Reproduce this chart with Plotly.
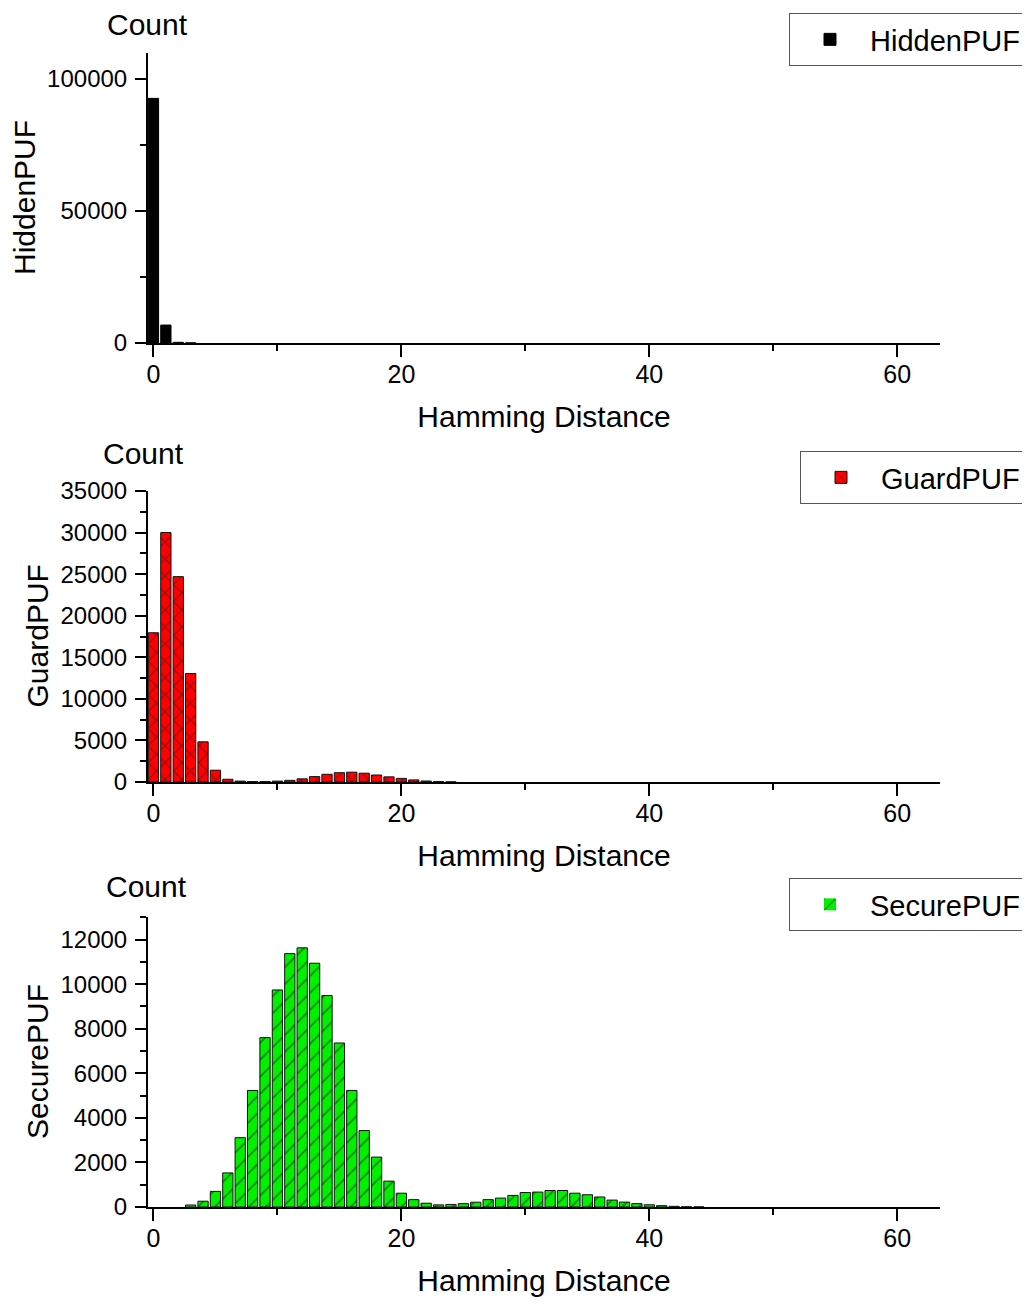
import plotly.graph_objects as go

# Hamming distance bins
hamming_distance = [0, 1, 2, 3, 4, 5, 6, 7, 8, 9, 10, 11, 12, 13, 14, 15, 16, 17, 18, 19, 20,
                    21, 22, 23, 24, 25, 26, 27, 28, 29, 30, 31, 32, 33, 34, 35, 36, 37, 38, 39,
                    40, 41, 42, 43, 44, 45]

hidden_puf = [92700, 6800, 250, 30, 0, 0, 0, 0, 0, 0, 0, 0, 0, 0, 0, 0, 0, 0, 0, 0, 0,
              0, 0, 0, 0, 0, 0, 0, 0, 0, 0, 0, 0, 0, 0, 0, 0, 0, 0, 0,
              0, 0, 0, 0, 0, 0]

guard_puf = [17950, 30000, 24700, 13050, 4830, 1420, 330, 110, 50, 60, 110, 200, 380, 650, 930,
             1120, 1180, 1060, 840, 620, 430, 250, 120, 50, 20, 0, 0, 0, 0, 0, 0, 0, 0, 0, 0,
             0, 0, 0, 0, 0, 0, 0, 0, 0, 0, 0]

secure_puf = [0, 0, 0, 90, 260, 700, 1530, 3110, 5230, 7600, 9740, 11370, 11630, 10940, 9490,
              7360, 5230, 3430, 2240, 1160, 620, 330, 170, 95, 115, 150, 215, 330, 400, 520,
              650, 670, 740, 740, 620, 550, 450, 310, 220, 150, 100, 60, 30, 10, 5, 0]

series_names = ["HiddenPUF", "GuardPUF", "SecurePUF"]
x_ticks = [0, 20, 40, 60]
y_ticks_hidden = [0, 50000, 100000]
y_ticks_guard = [0, 5000, 10000, 15000, 20000, 25000, 30000, 35000]
y_ticks_secure = [0, 2000, 4000, 6000, 8000, 10000, 12000]

# page body has an 8px margin: lay the figure out in reference pixels minus 8
OFF = 8
W, H = 1030 - OFF, 1304 - OFF
FONT = "Liberation Sans, Arial, sans-serif"

def px_x(p):
    return (p - OFF) / W

def px_y(p):
    return 1 - (p - OFF) / H

def outline(vals):
    return [1 if v > 0 else 0 for v in vals]

fig = go.Figure()

fig.add_trace(go.Bar(
    x=hamming_distance, y=hidden_puf, name=series_names[0],
    marker=dict(color="black", line=dict(color="black", width=outline(hidden_puf))),
    xaxis="x", yaxis="y", legend="legend"))
fig.add_trace(go.Bar(
    x=hamming_distance, y=guard_puf, name=series_names[1],
    marker=dict(color="#ff0000", line=dict(color="#111111", width=outline(guard_puf)),
                pattern=dict(shape="x", fgcolor="#1a1a1a", size=12, solidity=0.18)),
    xaxis="x2", yaxis="y2", legend="legend2"))
fig.add_trace(go.Bar(
    x=hamming_distance, y=secure_puf, name=series_names[2],
    marker=dict(color="#00f000", line=dict(color="#111111", width=outline(secure_puf)),
                pattern=dict(shape="/", fgcolor="#1a1a1a", size=12, solidity=0.15)),
    xaxis="x3", yaxis="y3", legend="legend3"))

xdom = [px_x(148), px_x(940)]
doms = [
    [px_y(343), px_y(52.7)],
    [px_y(782), px_y(491)],
    [px_y(1207), px_y(917.3)],
]
yranges = [[0, 110000], [0, 35000], [0, 13000]]
yticks = [y_ticks_hidden, y_ticks_guard, y_ticks_secure]
yminor = [25000, 2500, 1000]

def xaxis_def(anchor):
    return dict(
        domain=xdom, anchor=anchor, range=[-0.44, 63.45],
        tickvals=x_ticks, ticks="outside", ticklen=12, tickwidth=2, tickcolor="black",
        minor=dict(dtick=10, tick0=0, ticks="outside", ticklen=6, tickwidth=2, tickcolor="black"),
        showline=True, linecolor="black", linewidth=2, showgrid=False, zeroline=False,
        tickfont=dict(family=FONT, size=25, color="black"),
        ticklabelstandoff=-4,
        title=dict(text="Hamming Distance", font=dict(family=FONT, size=30, color="black"), standoff=19),
        automargin=False,
    )

def yaxis_def(anchor, dom, rng, tv, mn):
    return dict(
        domain=dom, anchor=anchor, range=rng,
        tickvals=tv, tickformat="d", ticks="outside", ticklen=11, tickwidth=2, tickcolor="black",
        minor=dict(dtick=mn, tick0=0, ticks="outside", ticklen=6, tickwidth=2, tickcolor="black"),
        showline=True, linecolor="black", linewidth=2, showgrid=False, zeroline=False,
        tickfont=dict(family=FONT, size=24, color="black"),
        ticklabelstandoff=3,
        automargin=False,
    )

legend_common = dict(
    xanchor="right", yanchor="middle", bordercolor="#555555", borderwidth=1,
    bgcolor="white", font=dict(family=FONT, size=29, color="black"),
    itemwidth=70,
)

fig.update_layout(
    width=W, height=H,
    margin=dict(l=0, r=0, t=0, b=0),
    plot_bgcolor="white", paper_bgcolor="white",
    barmode="group", bargap=0.17,
    font=dict(family=FONT, color="black"),
    xaxis=xaxis_def("y"),
    yaxis=yaxis_def("x", doms[0], yranges[0], yticks[0], yminor[0]),
    xaxis2=xaxis_def("y2"),
    yaxis2=yaxis_def("x2", doms[1], yranges[1], yticks[1], yminor[1]),
    xaxis3=xaxis_def("y3"),
    yaxis3=yaxis_def("x3", doms[2], yranges[2], yticks[2], yminor[2]),
    legend=dict(x=px_x(1026), y=px_y(39.5), **legend_common),
    legend2=dict(x=px_x(1026), y=px_y(477.5), **legend_common),
    legend3=dict(x=px_x(1026), y=px_y(904.5), **legend_common),
    showlegend=True,
)

# "Count" labels above each y axis
count_pos = [(147, 24), (143, 454), (146, 886)]
for cx, cy in count_pos:
    fig.add_annotation(
        text="Count", xref="paper", yref="paper", x=px_x(cx), y=px_y(cy),
        xanchor="center", yanchor="middle", showarrow=False,
        font=dict(family=FONT, size=30, color="black"))

# rotated y-axis titles
ytitle_pos = [(25, 198), (37, 636.5), (37, 1062)]
for name, (tx, ty) in zip(series_names, ytitle_pos):
    fig.add_annotation(
        text=name, xref="paper", yref="paper", x=px_x(tx), y=px_y(ty),
        xanchor="center", yanchor="middle", showarrow=False, textangle=-90,
        font=dict(family=FONT, size=30, color="black"))

fig.write_html("out.html")
